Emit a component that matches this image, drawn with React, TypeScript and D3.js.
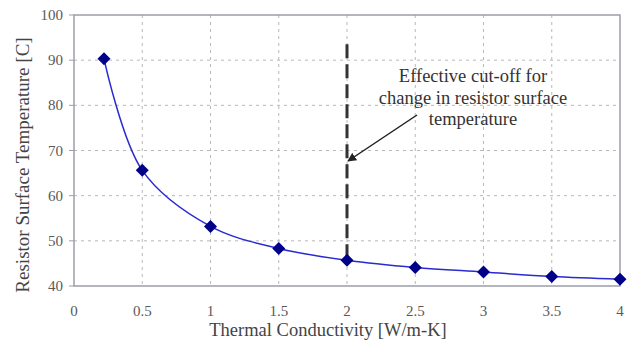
import * as d3 from "d3";
import { useEffect, useRef } from "react";

const conductivity = [0.22, 0.5, 1, 1.5, 2, 2.5, 3, 3.5, 4];
const temperature = [90.3, 65.6, 53.2, 48.3, 45.7, 44.1, 43.1, 42.1, 41.5];
const xTicks = [0, 0.5, 1, 1.5, 2, 2.5, 3, 3.5, 4];
const yTicks = [40, 50, 60, 70, 80, 90, 100];
const noteLines = ["Effective cut-off for", "change in resistor surface", "temperature"];

const App = () => {
  const ref = useRef<SVGSVGElement>(null);

  useEffect(() => {
    const width = 629,
      height = 349;
    const margin = { top: 15, right: 9, bottom: 63, left: 74 };
    const w = width - margin.left - margin.right,
      h = height - margin.top - margin.bottom;
    const font = "'Liberation Serif', 'DejaVu Serif', serif";

    const root = d3.select(ref.current);
    root.selectAll("*").remove();
    const svg = root.append("g").attr("transform", `translate(${margin.left},${margin.top})`);

    const x = d3.scaleLinear().domain([0, 4]).range([0, w]);
    const y = d3.scaleLinear().domain([40, 100]).range([h, 0]);

    // grid
    svg
      .selectAll("line.vgrid")
      .data(xTicks.slice(1, -1))
      .join("line")
      .attr("x1", (d) => x(d))
      .attr("x2", (d) => x(d))
      .attr("y1", 0)
      .attr("y2", h)
      .attr("stroke", "#b8b8b8")
      .attr("stroke-dasharray", "3,4");
    svg
      .selectAll("line.hgrid")
      .data(yTicks.slice(1, -1))
      .join("line")
      .attr("x1", 0)
      .attr("x2", w)
      .attr("y1", (d) => y(d))
      .attr("y2", (d) => y(d))
      .attr("stroke", "#b8b8b8")
      .attr("stroke-dasharray", "3,4");

    // frame
    svg
      .append("rect")
      .attr("width", w)
      .attr("height", h)
      .attr("fill", "none")
      .attr("stroke", "#9a9eaa")
      .attr("stroke-width", 1.5);

    // tick labels
    svg
      .selectAll("text.xt")
      .data(xTicks)
      .join("text")
      .attr("x", (d) => x(d))
      .attr("y", h + 30)
      .attr("text-anchor", "middle")
      .attr("font-family", font)
      .attr("font-size", 15)
      .attr("fill", "#5a5a5a")
      .text((d) => d);
    svg
      .selectAll("text.yt")
      .data(yTicks)
      .join("text")
      .attr("x", -11)
      .attr("y", (d) => y(d) + 5)
      .attr("text-anchor", "end")
      .attr("font-family", font)
      .attr("font-size", 15)
      .attr("fill", "#5a5a5a")
      .text((d) => d);
    svg
      .selectAll("line.ytick")
      .data(yTicks)
      .join("line")
      .attr("x1", -5)
      .attr("x2", 0)
      .attr("y1", (d) => y(d))
      .attr("y2", (d) => y(d))
      .attr("stroke", "#9a9eaa");

    // axis titles
    svg
      .append("text")
      .attr("x", 328 - margin.left)
      .attr("y", h + 50)
      .attr("text-anchor", "middle")
      .attr("font-family", font)
      .attr("font-size", 18.5)
      .attr("fill", "#444")
      .text("Thermal Conductivity [W/m-K]");
    svg
      .append("text")
      .attr("transform", `translate(-45,${165 - margin.top}) rotate(-90)`)
      .attr("text-anchor", "middle")
      .attr("font-family", font)
      .attr("font-size", 19)
      .attr("fill", "#444")
      .text("Resistor Surface Temperature [C]");

    // cut-off line
    svg
      .append("line")
      .attr("x1", x(2))
      .attr("x2", x(2))
      .attr("y1", y(93.5))
      .attr("y2", y(46.5))
      .attr("stroke", "#333")
      .attr("stroke-width", 3)
      .attr("stroke-dasharray", "14,6");

    // curve
    const pts = conductivity.map((c, i) => [c, temperature[i]] as [number, number]);
    const line = d3
      .line<[number, number]>()
      .x((d) => x(d[0]))
      .y((d) => y(d[1]))
      .curve(d3.curveCatmullRom.alpha(0.5));
    svg
      .append("path")
      .attr("d", line(pts))
      .attr("fill", "none")
      .attr("stroke", "#2a2ad0")
      .attr("stroke-width", 1.5);

    svg
      .selectAll("path.pt")
      .data(pts)
      .join("path")
      .attr("transform", (d) => `translate(${x(d[0])},${y(d[1])})`)
      .attr("d", "M0,-6.5L6.5,0L0,6.5L-6.5,0Z")
      .attr("fill", "#000088");

    // annotation
    const defs = root.append("defs");
    defs
      .append("marker")
      .attr("id", "arrow")
      .attr("viewBox", "0 0 10 10")
      .attr("refX", 9)
      .attr("refY", 5)
      .attr("markerWidth", 6)
      .attr("markerHeight", 6)
      .attr("orient", "auto")
      .append("path")
      .attr("d", "M0,0L10,5L0,10Z")
      .attr("fill", "#222");
    svg
      .append("line")
      .attr("x1", 417 - margin.left)
      .attr("y1", 115 - margin.top)
      .attr("x2", x(2) + 1)
      .attr("y2", 161 - margin.top)
      .attr("stroke", "#222")
      .attr("stroke-width", 1.5)
      .attr("marker-end", "url(#arrow)");
    svg
      .selectAll("text.note")
      .data(noteLines)
      .join("text")
      .attr("x", 473 - margin.left)
      .attr("y", (d, i) => 82 - margin.top + i * 21.5)
      .attr("text-anchor", "middle")
      .attr("font-family", font)
      .attr("font-size", 18.5)
      .attr("fill", "#333")
      .text((d) => d);
  }, []);

  return (
    <svg
      ref={ref}
      width={629}
      height={349}
      style={{ position: "absolute", left: 0, top: 0, background: "#fff" }}
    />
  );
};

export default App;
